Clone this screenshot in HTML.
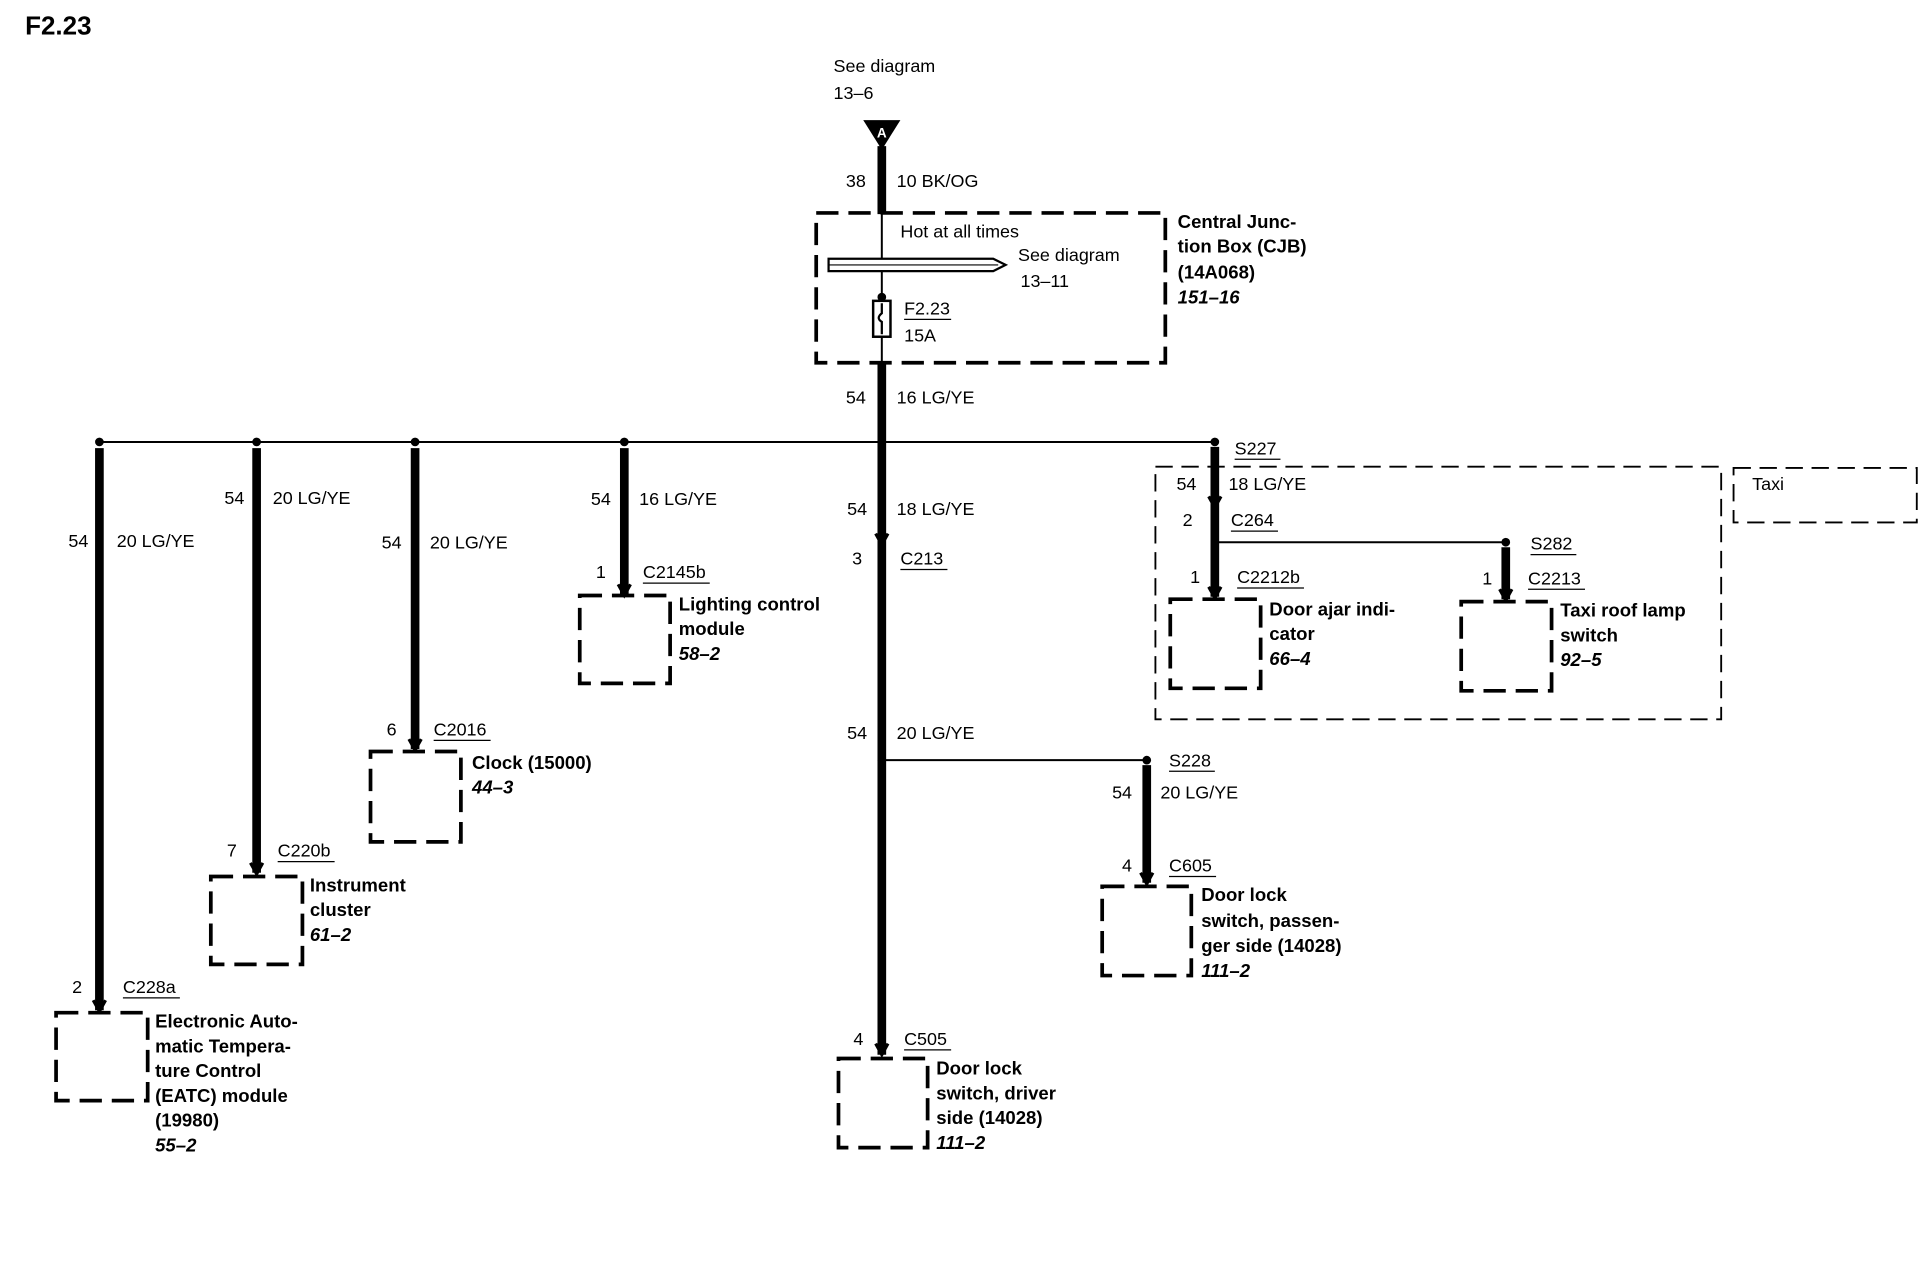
<!DOCTYPE html>
<html><head><meta charset="utf-8"><style>
html,body{margin:0;padding:0;background:#fff;}
svg{display:block;}
text{font-family:"Liberation Sans",Arial,sans-serif;font-size:14.5px;fill:#000;}
.b{font-weight:bold;font-size:15px;}
.i{font-weight:bold;font-style:italic;font-size:15px;}
.th{stroke:#000;stroke-width:7;fill:none;}
.tn{stroke:#000;stroke-width:1.6;fill:none;}
.bx{stroke:#000;stroke-width:3;fill:none;stroke-dasharray:18 8;}
.tx{stroke:#000;stroke-width:1.5;fill:none;stroke-dasharray:14 7;}
.ul{stroke:#000;stroke-width:1;}
.ar{stroke:#000;stroke-width:2.5;fill:none;}
</style></head><body>
<svg width="1932" height="1264" viewBox="0 0 1560 1021" xmlns="http://www.w3.org/2000/svg">
<text x="20" y="28" class="b" style="font-size:21px">F2.23</text>
<text x="673" y="58">See diagram</text>
<text x="673" y="80">13–6</text>
<polygon points="697,97 727,97 712,121" fill="#000"/>
<text x="712" y="111" text-anchor="middle" class="b" style="font-size:11px;fill:#fff">A</text>
<line class="th" x1="712" y1="118" x2="712" y2="173"/>
<text x="683" y="151">38</text><text x="724" y="151">10 BK/OG</text>
<rect class="bx" x="659" y="172" width="282" height="121"/>
<line class="tn" x1="712" y1="173" x2="712" y2="243"/>
<text x="727" y="192">Hot at all times</text>
<polygon points="669,209 802,209 812,214 802,219 669,219" fill="#fff" stroke="#000" stroke-width="1.8"/>
<line x1="669" y1="214" x2="806" y2="214" stroke="#000" stroke-width="1"/>
<text x="822" y="211">See diagram</text><text x="824" y="232">13–11</text>
<circle cx="712" cy="240" r="3.5"/>
<rect x="705" y="243" width="14" height="29" fill="#fff" stroke="#000" stroke-width="2"/>
<path d="M712,245 v8 q-5,4 0,7 v10" stroke="#000" stroke-width="1.8" fill="none"/>
<text x="730" y="254">F2.23</text><line class="ul" x1="730" y1="258" x2="768" y2="258"/>
<text x="730" y="276">15A</text>
<line class="tn" x1="712" y1="272" x2="712" y2="293"/>
<text x="951" y="184" class="b">Central Junc-</text>
<text x="951" y="204" class="b">tion Box (CJB)</text>
<text x="951" y="225" class="b">(14A068)</text>
<text x="951" y="245" class="i">151–16</text>
<line class="th" x1="712" y1="292" x2="712" y2="852"/>
<text x="683" y="326">54</text><text x="724" y="326">16 LG/YE</text>
<line class="tn" x1="80" y1="357" x2="981" y2="357"/>
<g fill="#000"><circle cx="80" cy="357" r="3.5"/><circle cx="207" cy="357" r="3.5"/><circle cx="335" cy="357" r="3.5"/><circle cx="504" cy="357" r="3.5"/><circle cx="712" cy="357" r="3.5"/><circle cx="981" cy="357" r="3.5"/><circle cx="712" cy="614" r="3.5"/><circle cx="926" cy="614" r="3.5"/><circle cx="981" cy="438" r="3.5"/><circle cx="1216" cy="438" r="3.5"/></g>
<line class="th" x1="80" y1="362" x2="80" y2="816"/>
<path class="ar" d="M75,808 l5,9 l5,-9"/>
<text x="55" y="442">54</text><text x="94" y="442">20 LG/YE</text>
<text x="58" y="802">2</text><text x="99" y="802">C228a</text><line class="ul" x1="99" y1="806" x2="145" y2="806"/>
<rect class="bx" x="45" y="818" width="74" height="71"/>
<text x="125" y="830" class="b">Electronic Auto-</text>
<text x="125" y="850" class="b">matic Tempera-</text>
<text x="125" y="870" class="b">ture Control</text>
<text x="125" y="890" class="b">(EATC) module</text>
<text x="125" y="910" class="b">(19980)</text>
<text x="125" y="930" class="i">55–2</text>

<line class="th" x1="207" y1="362" x2="207" y2="705"/>
<path class="ar" d="M202,697 l5,9 l5,-9"/>
<text x="181" y="407">54</text><text x="220" y="407">20 LG/YE</text>
<text x="183" y="692">7</text><text x="224" y="692">C220b</text><line class="ul" x1="224" y1="696" x2="270" y2="696"/>
<rect class="bx" x="170" y="708" width="74" height="71"/>
<text x="250" y="720" class="b">Instrument</text>
<text x="250" y="740" class="b">cluster</text>
<text x="250" y="760" class="i">61–2</text>

<line class="th" x1="335" y1="362" x2="335" y2="605"/>
<path class="ar" d="M330,597 l5,9 l5,-9"/>
<text x="308" y="443">54</text><text x="347" y="443">20 LG/YE</text>
<text x="312" y="594">6</text><text x="350" y="594">C2016</text><line class="ul" x1="350" y1="598" x2="396" y2="598"/>
<rect class="bx" x="299" y="607" width="73" height="73"/>
<text x="381" y="621" class="b">Clock (15000)</text>
<text x="381" y="641" class="i">44–3</text>

<line class="th" x1="504" y1="362" x2="504" y2="480"/>
<path class="ar" d="M499,472 l5,9 l5,-9"/>
<text x="477" y="408">54</text><text x="516" y="408">16 LG/YE</text>
<text x="481" y="467">1</text><text x="519" y="467">C2145b</text><line class="ul" x1="519" y1="471" x2="573" y2="471"/>
<rect class="bx" x="468" y="481" width="73" height="71"/>
<text x="548" y="493" class="b">Lighting control</text>
<text x="548" y="513" class="b">module</text>
<text x="548" y="533" class="i">58–2</text>

<path class="ar" d="M707,431 l5,9 l5,-9"/>
<text x="684" y="416">54</text><text x="724" y="416">18 LG/YE</text>
<text x="688" y="456">3</text><text x="727" y="456">C213</text><line class="ul" x1="727" y1="460" x2="765" y2="460"/>
<text x="684" y="597">54</text><text x="724" y="597">20 LG/YE</text>
<line class="tn" x1="712" y1="614" x2="926" y2="614"/>
<path class="ar" d="M707,843 l5,9 l5,-9"/>
<text x="689" y="844">4</text><text x="730" y="844">C505</text><line class="ul" x1="730" y1="848" x2="768" y2="848"/>
<rect class="bx" x="677" y="855" width="72" height="72"/>
<text x="756" y="868" class="b">Door lock</text>
<text x="756" y="888" class="b">switch, driver</text>
<text x="756" y="908" class="b">side (14028)</text>
<text x="756" y="928" class="i">111–2</text>

<line class="th" x1="926" y1="618" x2="926" y2="713"/>
<path class="ar" d="M921,705 l5,9 l5,-9"/>
<text x="944" y="619">S228</text><line class="ul" x1="944" y1="623" x2="981" y2="623"/>
<text x="898" y="645">54</text><text x="937" y="645">20 LG/YE</text>
<text x="906" y="704">4</text><text x="944" y="704">C605</text><line class="ul" x1="944" y1="708" x2="982" y2="708"/>
<rect class="bx" x="890" y="716" width="72" height="72"/>
<text x="970" y="728" class="b">Door lock</text>
<text x="970" y="749" class="b">switch, passen-</text>
<text x="970" y="769" class="b">ger side (14028)</text>
<text x="970" y="789" class="i">111–2</text>

<rect class="tx" x="933" y="377" width="457" height="204"/>
<rect class="tx" x="1400" y="378" width="148" height="44"/>
<text x="1415" y="396">Taxi</text>
<line class="th" x1="981" y1="361" x2="981" y2="482"/>
<path class="ar" d="M976,401 l5,9 l5,-9"/>
<path class="ar" d="M976,474 l5,9 l5,-9"/>
<text x="997" y="367">S227</text><line class="ul" x1="997" y1="371" x2="1034" y2="371"/>
<text x="950" y="396">54</text><text x="992" y="396">18 LG/YE</text>
<text x="955" y="425">2</text><text x="994" y="425">C264</text><line class="ul" x1="994" y1="429" x2="1032" y2="429"/>
<line class="tn" x1="981" y1="438" x2="1216" y2="438"/>
<text x="961" y="471">1</text><text x="999" y="471">C2212b</text><line class="ul" x1="999" y1="475" x2="1053" y2="475"/>
<rect class="bx" x="945" y="484" width="73" height="72"/>
<text x="1025" y="497" class="b">Door ajar indi-</text>
<text x="1025" y="517" class="b">cator</text>
<text x="1025" y="537" class="i">66–4</text>
<line class="th" x1="1216" y1="442" x2="1216" y2="484"/>
<path class="ar" d="M1211,476 l5,9 l5,-9"/>
<text x="1236" y="444">S282</text><line class="ul" x1="1236" y1="448" x2="1273" y2="448"/>
<text x="1197" y="472">1</text><text x="1234" y="472">C2213</text><line class="ul" x1="1234" y1="476" x2="1280" y2="476"/>
<rect class="bx" x="1180" y="486" width="73" height="72"/>
<text x="1260" y="498" class="b">Taxi roof lamp</text>
<text x="1260" y="518" class="b">switch</text>
<text x="1260" y="538" class="i">92–5</text>
</svg>
</body></html>
